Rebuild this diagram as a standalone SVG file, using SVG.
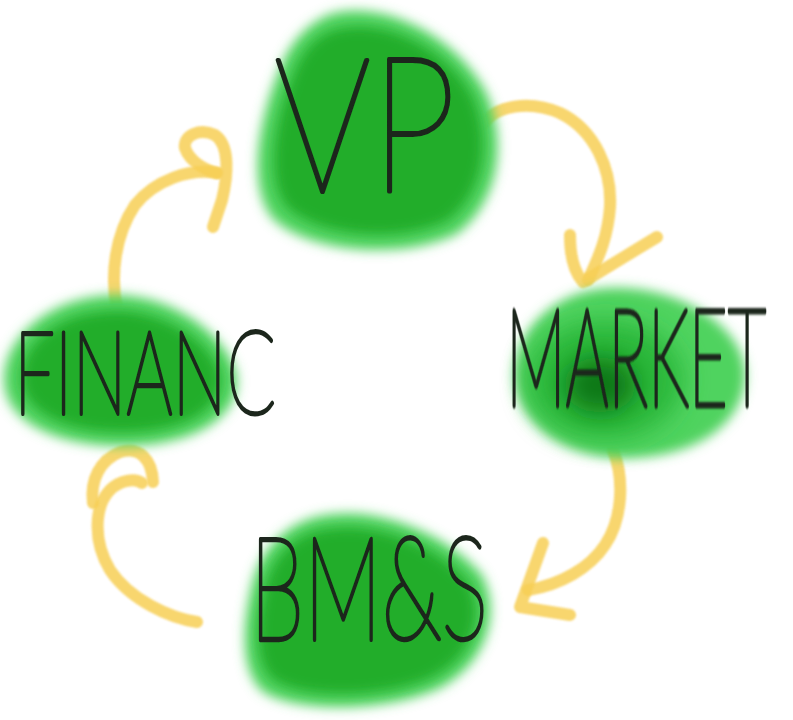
<svg xmlns="http://www.w3.org/2000/svg" width="793" height="720" viewBox="0 0 793 720">
<defs>
<filter id="soft" x="-30%" y="-30%" width="160%" height="160%"><feGaussianBlur stdDeviation="6"/></filter>
<filter id="softer" x="-40%" y="-40%" width="180%" height="180%"><feGaussianBlur stdDeviation="12"/></filter>
<filter id="ink" x="-10%" y="-10%" width="120%" height="120%"><feGaussianBlur stdDeviation="0.5"/></filter>
<filter id="marker" x="-20%" y="-20%" width="140%" height="140%"><feGaussianBlur stdDeviation="1.3"/></filter>
</defs>
<style>
.outer{fill:#4fd35f;filter:url(#soft)}
.inner{fill:#20ad2a;filter:url(#soft)}
.hand{font-family:Lato,Inter,"Open Sans","DejaVu Sans",sans-serif;font-weight:100;fill:#1a261a;stroke:#1a261a;stroke-width:4;stroke-linejoin:round;stroke-linecap:round;filter:url(#ink)}
.arrow{fill:none;stroke:#f7cf55;stroke-width:12;stroke-linecap:round;stroke-linejoin:round;opacity:0.85;filter:url(#marker)}
</style>
<rect width="793" height="720" fill="#ffffff"/>
<g id="connectors">
<path class="arrow" d="M483,125 C495,105 530,100 560,113 C595,130 612,170 610,207 C608,235 600,255 588,280"/>
<path class="arrow" d="M570,235 C570,258 574,272 583,282 L657,237"/>
<path class="arrow" d="M613,450 C625,480 622,520 605,545 C590,568 560,585 528,590"/>
<path class="arrow" d="M543,543 L520,607 L570,615"/>
<path class="arrow" d="M197,622 C170,618 130,600 110,570 C92,540 95,505 110,490 C120,480 135,478 142,483"/>
<path class="arrow" d="M93,503 C90,480 100,460 120,452 C140,446 152,460 153,482"/>
<path class="arrow" d="M117,310 C110,275 115,235 135,205 C155,180 190,168 217,173"/>
<path class="arrow" d="M217,173 C205,170 190,162 185,148 C183,135 200,128 215,135 C230,145 228,175 222,200 L213,227"/>
</g>
<g id="vp">
<path class="outer" d="M330,14 C385,-2 458,38 486,92 C508,140 500,202 457,234 C405,260 312,254 274,220 C246,188 258,120 280,68 C290,43 306,24 330,14 Z"/>
<path class="inner" d="M335,30 C385,16 448,50 472,96 C492,140 484,192 448,220 C403,243 322,238 288,208 C265,182 274,122 293,76 C302,52 315,36 335,30 Z"/>
<text class="hand" x="274" y="192" font-size="188" textLength="182" lengthAdjust="spacingAndGlyphs">VP</text>
</g>
<g id="market">
<path class="outer" d="M610,288 C670,285 740,320 745,370 C748,420 700,458 625,458 C560,458 515,420 515,375 C515,330 555,290 610,288 Z"/>
<ellipse cx="605" cy="380" rx="78" ry="60" fill="#2cb83a" filter="url(#softer)"/>
<ellipse cx="600" cy="385" rx="36" ry="28" fill="#0a7812" filter="url(#softer)"/>
<text class="hand" transform="translate(506,406) scale(1,1.89)" x="0" y="0" font-size="72" textLength="260" lengthAdjust="spacingAndGlyphs" style="stroke-width:2.6">MARKET</text>
</g>
<g id="bms">
<path class="outer" d="M320,516 C380,503 452,538 482,575 C502,612 487,662 442,687 C392,712 298,714 263,692 C238,670 243,620 253,580 C263,545 290,522 320,516 Z"/>
<path class="inner" d="M322,530 C378,518 442,550 468,582 C486,614 473,656 434,676 C390,698 304,700 274,680 C253,662 257,620 266,585 C275,553 297,535 322,530 Z"/>
<text class="hand" x="250" y="640" font-size="145" textLength="238" lengthAdjust="spacingAndGlyphs">BM&amp;S</text>
</g>
<g id="finance">
<path class="outer" d="M100,296 C162,288 224,330 236,372 C244,412 202,444 130,446 C58,448 4,422 4,380 C4,336 50,301 100,296 Z"/>
<path class="inner" d="M102,312 C155,305 208,338 219,372 C226,405 192,430 130,432 C68,434 22,412 22,378 C22,343 58,316 102,312 Z"/>
<text class="hand" x="14" y="414" font-size="116" textLength="262" lengthAdjust="spacingAndGlyphs">FINANC</text>
</g>
</svg>
